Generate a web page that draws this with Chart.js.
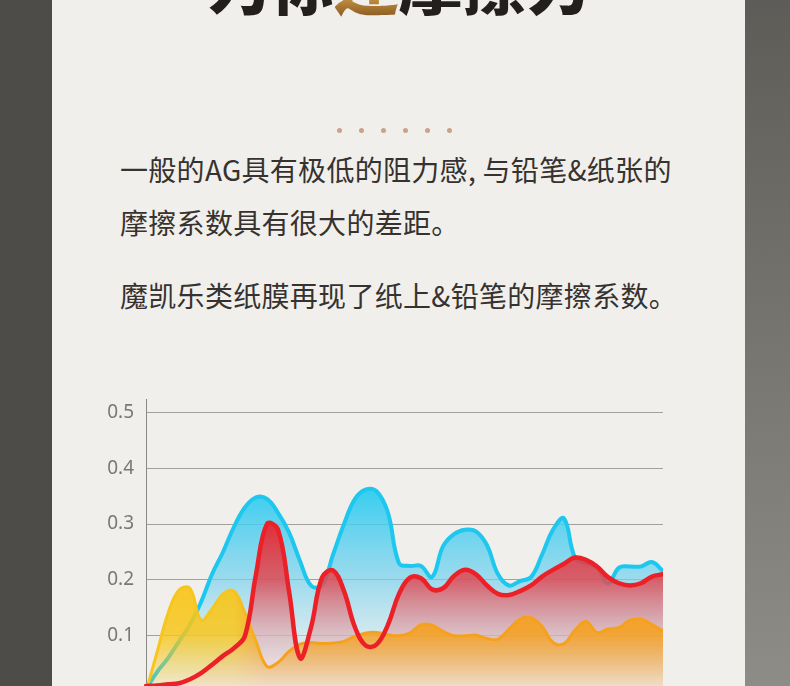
<!DOCTYPE html>
<html>
<head>
<meta charset="utf-8">
<script src="https://cdn.jsdelivr.net/npm/chart.js"></script>
<style>
html, body { margin:0; padding:0; }
body {
    width:790px; height:686px; overflow:hidden; position:relative;
    background: linear-gradient(180deg, #5e5c58 0%, #77756f 50%, #8e8c87 100%);
}
#side { position:absolute; left:0; top:0; width:52px; height:686px; background:#4e4c48; }
#panel { position:absolute; left:52px; top:0; width:693px; height:686px; background:#f1efeb; overflow:hidden; }
#title {
    position:absolute; left:0; width:693px; top:-51px; text-align:center;
    font-family:"Noto Sans CJK SC"; font-weight:900; font-size:64px; line-height:1; color:#231f1c;
}
#title .gold {
    background: linear-gradient(180deg, #7a4a14 0%, #e8b257 55%, #6b3f10 100%);
    -webkit-background-clip:text; background-clip:text; color:transparent;
}
#dots { position:absolute; left:285px; top:128px; display:flex; }
#dots span { display:block; width:5px; height:5px; border-radius:50%; background:#caa28c; margin-right:17px; }
.para {
    position:absolute; left:68px; font-family:"Noto Sans CJK SC"; font-size:28px;
    line-height:53px; color:#36322f; letter-spacing:0.3px;
}
#wrap { position:absolute; left:38px; top:376px; width:573px; height:339px; }
</style>
</head>
<body>
<div id="side"></div>
<div id="panel">
    <div id="title">为你<span class="gold">还</span>摩擦力</div>
    <div id="dots"><span></span><span></span><span></span><span></span><span></span><span></span></div>
    <div class="para" style="top:143px">一般的AG具有极低的阻力感, 与铅笔&amp;纸张的<br>摩擦系数具有很大的差距。</div>
    <div class="para" style="top:269px">魔凯乐类纸膜再现了纸上&amp;铅笔的摩擦系数。</div>
    <div id="wrap"><canvas id="myChart"></canvas></div>
</div>
<script>
// sample positions along the measurement
var positions = Array(48).fill().map((x,i)=>i+1);

// AG film
var agValues = [0.005,0.035,0.06,0.09,0.12,0.16,0.21,0.25,0.295,0.33,0.348,0.345,0.32,0.285,0.234,0.19,
    0.19,0.245,0.30,0.345,0.362,0.358,0.32,0.23,0.225,0.225,0.205,0.26,0.282,0.29,0.287,0.262,
    0.21,0.19,0.198,0.205,0.245,0.29,0.31,0.24,0.23,0.222,0.194,0.222,0.224,0.224,0.232,0.216];

// paper-like film
var filmValues = [0.01,0.011,0.013,0.015,0.022,0.033,0.048,0.064,0.078,0.1,0.21,0.3,0.29,0.18,0.06,0.115,
    0.204,0.217,0.18,0.115,0.082,0.085,0.12,0.175,0.204,0.203,0.183,0.185,0.207,0.218,0.21,0.19,
    0.175,0.173,0.18,0.19,0.206,0.218,0.229,0.24,0.236,0.224,0.205,0.194,0.19,0.194,0.206,0.21];

// paper & pencil
var paperValues = [0.0,0.07,0.14,0.182,0.185,0.128,0.148,0.175,0.18,0.14,0.09,0.045,0.052,0.072,0.085,0.088,
    0.086,0.087,0.09,0.099,0.105,0.106,0.102,0.1,0.105,0.12,0.119,0.108,0.1,0.1,0.101,0.095,
    0.094,0.112,0.13,0.133,0.117,0.088,0.086,0.11,0.126,0.106,0.112,0.115,0.128,0.13,0.12,0.109];

var yTicks = [0, 0.1, 0.2, 0.3, 0.4, 0.5];

function vgrad(ctx, stops) {
    var chart = ctx.chart;
    if (!chart.chartArea) return null;
    var y = chart.scales.y;
    var top = y.getPixelForValue(stops[0][0]), bot = y.getPixelForValue(0);
    var g = chart.ctx.createLinearGradient(0, top, 0, bot);
    stops.forEach(function(s) {
        var p = (y.getPixelForValue(s[0]) - top) / (bot - top);
        g.addColorStop(Math.min(1, Math.max(0, p)), s[1]);
    });
    return g;
}

function paperStroke(ctx) {
    var chart = ctx.chart;
    if (!chart.chartArea) return '#f5b520';
    var x = chart.scales.x;
    var g = chart.ctx.createLinearGradient(x.getPixelForValue(8), 0, x.getPixelForValue(11), 0);
    g.addColorStop(0, '#f6c51e');
    g.addColorStop(1, '#f5a11d');
    return g;
}

function paperFill(ctx) {
    var chart = ctx.chart;
    if (!chart.chartArea) return null;
    var x = chart.scales.x, y = chart.scales.y;
    var off = document.createElement('canvas');
    off.width = chart.width; off.height = chart.height;
    var c = off.getContext('2d');
    var h = c.createLinearGradient(x.getPixelForValue(8), 0, x.getPixelForValue(11), 0);
    h.addColorStop(0, '#f7c61c');
    h.addColorStop(1, '#f6a01a');
    c.fillStyle = h;
    c.fillRect(0, 0, off.width, off.height);
    c.globalCompositeOperation = 'destination-in';
    var v = c.createLinearGradient(0, y.getPixelForValue(0.19), 0, y.getPixelForValue(0));
    v.addColorStop(0, 'rgba(0,0,0,0.95)');
    v.addColorStop(0.45, 'rgba(0,0,0,0.85)');
    v.addColorStop(1, 'rgba(0,0,0,0.08)');
    c.fillStyle = v;
    c.fillRect(0, 0, off.width, off.height);
    return chart.ctx.createPattern(off, 'no-repeat');
}

var ctx = document.getElementById('myChart').getContext('2d');
var myChart = new Chart(ctx, {
    type: 'line',
    data: {
        labels: positions,
        datasets: [
            {
                label: 'AG',
                data: agValues,
                order: 4,
                borderColor: '#1dc7ee',
                borderWidth: 4,
                fill: 'origin',
                backgroundColor: function(c) {
                    return vgrad(c, [[0.36,'rgba(40,202,240,0.92)'],[0.2,'rgba(120,210,238,0.7)'],[0.05,'rgba(215,236,244,0.45)'],[0,'rgba(240,240,240,0.2)']]);
                }
            },
            {
                label: 'film fill',
                data: filmValues,
                order: 3,
                borderWidth: 0,
                borderColor: 'rgba(0,0,0,0)',
                fill: 'origin',
                backgroundColor: function(c) {
                    return vgrad(c, [[0.31,'rgba(233,35,42,0.95)'],[0.2,'rgba(226,68,78,0.82)'],[0.1,'rgba(226,160,165,0.55)'],[0,'rgba(238,210,210,0.2)']]);
                }
            },
            {
                label: 'paper',
                data: paperValues,
                order: 2,
                borderColor: paperStroke,
                borderWidth: 3,
                fill: 'origin',
                backgroundColor: paperFill
            },
            {
                label: 'film',
                data: filmValues,
                order: 1,
                borderColor: '#ec2127',
                borderWidth: 4.5,
                fill: false
            }
        ]
    },
    options: {
        responsive: true,
        maintainAspectRatio: false,
        animation: false,
        layout: { padding: 0 },
        elements: {
            point: { radius: 0 },
            line: { tension: 0.4, borderCapStyle: 'round', borderJoinStyle: 'round' }
        },
        plugins: {
            legend: { display: false },
            tooltip: { enabled: false }
        },
        scales: {
            x: { display: false },
            y: {
                z: 1,
                min: 0,
                max: 0.5 + 13/560,
                afterBuildTicks: function(axis) {
                    axis.ticks = yTicks.map(function(v) { return { value: v }; });
                },
                afterFit: function(axis) { axis.width = 56; },
                border: { display: true, color: '#8a8886', width: 1 },
                grid: { color: 'rgba(110,106,102,0.6)', lineWidth: 1, drawTicks: false },
                ticks: {
                    padding: 12,
                    color: '#7a7876',
                    font: { family: 'Noto Sans', size: 19 },
                    callback: function(v) { return v === 0 ? '' : v.toFixed(1); }
                }
            }
        }
    }
});
</script>
</body>
</html>
